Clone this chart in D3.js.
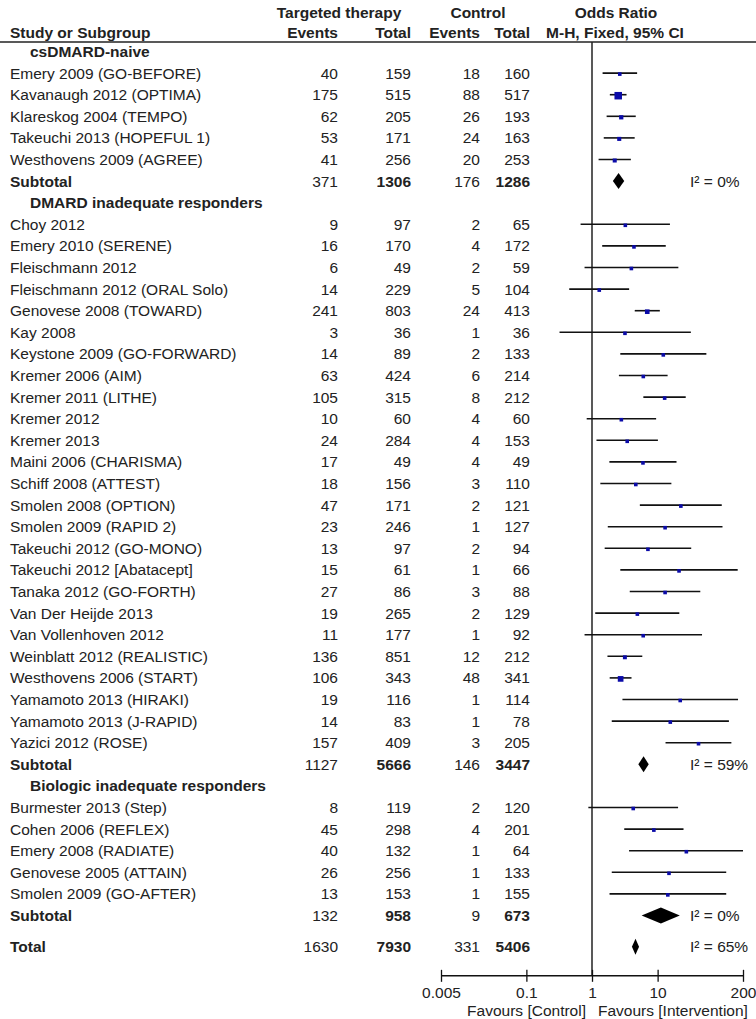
<!DOCTYPE html>
<html>
<head>
<meta charset="UTF-8">
<title>Forest plot: targeted therapy vs control</title>
<script src="https://cdn.jsdelivr.net/npm/d3@7"></script>
<style>
  body { margin: 0; background: #fff; }
  svg { display: block; font-family: "Liberation Sans", Arial, sans-serif; }
  .txt { font-size: 15.5px; fill: #222; }
  .bold { font-weight: bold; }
  .rule { stroke: #222; stroke-width: 1.5px; }
  .ci { stroke: #111; stroke-width: 1.6px; }
  .box { fill: #0b0ba8; }
  .diamond { fill: #000; }
</style>
</head>
<body>
<svg id="chart" width="756" height="1019"></svg>
<script>
// ---- data ----
const groups = ['csDMARD-naive', 'DMARD inadequate responders', 'Biologic inadequate responders'];

const studies = [
  'Emery 2009 (GO-BEFORE)', 'Kavanaugh 2012 (OPTIMA)', 'Klareskog 2004 (TEMPO)',
  'Takeuchi 2013 (HOPEFUL 1)', 'Westhovens 2009 (AGREE)',
  'Choy 2012', 'Emery 2010 (SERENE)', 'Fleischmann 2012', 'Fleischmann 2012 (ORAL Solo)',
  'Genovese 2008 (TOWARD)', 'Kay 2008', 'Keystone 2009 (GO-FORWARD)', 'Kremer 2006 (AIM)',
  'Kremer 2011 (LITHE)', 'Kremer 2012', 'Kremer 2013', 'Maini 2006 (CHARISMA)',
  'Schiff 2008 (ATTEST)', 'Smolen 2008 (OPTION)', 'Smolen 2009 (RAPID 2)',
  'Takeuchi 2012 (GO-MONO)', 'Takeuchi 2012 [Abatacept]', 'Tanaka 2012 (GO-FORTH)',
  'Van Der Heijde 2013', 'Van Vollenhoven 2012', 'Weinblatt 2012 (REALISTIC)',
  'Westhovens 2006 (START)', 'Yamamoto 2013 (HIRAKI)', 'Yamamoto 2013 (J-RAPID)', 'Yazici 2012 (ROSE)',
  'Burmester 2013 (Step)', 'Cohen 2006 (REFLEX)', 'Emery 2008 (RADIATE)',
  'Genovese 2005 (ATTAIN)', 'Smolen 2009 (GO-AFTER)'
];
const studyGroup = [0,0,0,0,0, 1,1,1,1,1,1,1,1,1,1,1,1,1,1,1,1,1,1,1,1,1,1,1,1,1, 2,2,2,2,2];

const txEvents = [40,175,62,53,41, 9,16,6,14,241,3,14,63,105,10,24,17,18,47,23,13,15,27,19,11,136,106,19,14,157, 8,45,40,26,13];
const txTotal  = [159,515,205,171,256, 97,170,49,229,803,36,89,424,315,60,284,49,156,171,246,97,61,86,265,177,851,343,116,83,409, 119,298,132,256,153];
const ctEvents = [18,88,26,24,20, 2,4,2,5,24,1,2,6,8,4,4,4,3,2,1,2,1,3,2,1,12,48,1,1,3, 2,4,1,1,1];
const ctTotal  = [160,517,193,163,253, 65,172,59,104,413,36,133,214,212,60,153,49,110,121,127,94,66,88,129,92,212,341,114,78,205, 120,201,64,133,155];

const oddsRatio = [2.65,2.51,2.79,2.60,2.22, 3.22,4.36,3.98,1.29,6.95,3.18,12.2,6.05,12.8,2.80,3.44,5.98,4.65,22.6,13.0,7.12,21.2,13.0,4.91,6.03,3.17,2.73,22.1,15.6,42.0, 4.25,8.76,27.4,14.9,14.3];
const ciLow    = [1.45,1.87,1.67,1.51,1.26, 0.67,1.43,0.77,0.45,4.48,0.32,2.70,2.57,6.06,0.83,1.17,1.84,1.34,5.36,1.74,1.56,2.70,3.76,1.12,0.77,1.72,1.86,2.91,2.00,13.2, 0.88,3.10,3.67,2.00,1.85];
const ciHigh   = [4.87,3.36,4.64,4.47,3.91, 15.4,13.3,20.7,3.68,10.8,32.1,55.3,14.2,26.8,9.49,10.1,19.4,16.2,94.9,97.4,32.5,166,44.7,21.4,47.5,5.84,4.00,168,122,133, 20.5,24.8,204,111,111];
const weightPct = [5.1,22.1,7.1,6.5,6.4, 0.8,1.4,0.6,2.5,8.4,0.4,0.5,2.6,2.4,1.3,1.8,1.0,1.2,0.6,0.5,0.7,0.3,0.8,1.0,0.5,6.1,12.7,0.3,0.3,0.9, 0.7,1.5,0.4,0.4,0.3];

const subTxEvents = [371, 1127, 132];
const subTxTotal  = [1306, 5666, 958];
const subCtEvents = [176, 146, 9];
const subCtTotal  = [1286, 3447, 673];
const subOR   = [2.54, 6.11, 11.2];
const subLow  = [2.08, 5.08, 5.70];
const subHigh = [3.10, 7.32, 21.8];
const subI2   = ['0%', '59%', '0%'];

const totalCounts = [1630, 7930, 331, 5406];
const totalOR = [4.60, 4.06, 5.21]; // estimate, low, high
const totalI2 = '65%';

const axisTicks = [0.005, 0.1, 1, 10, 200];

// ---- layout ----
const svg = d3.select('#chart');
const colName = 10, colIndent = 30;
const colTxEv = 338, colTxTot = 411, colCtEv = 480, colCtTot = 530;
const xI2 = 690;

const x = d3.scaleLog().domain([0.005, 200]).range([441, 743]);
const y = d3.scaleLinear().domain([0, 1]).range([51.5, 73.1]);

// build the row list: header, studies, subtotal for each group
const rows = [];
let slot = 0;
groups.forEach((g, gi) => {
  rows.push({ kind: 'header', label: g, slot: slot++ });
  studies.forEach((s, i) => {
    if (studyGroup[i] !== gi) return;
    rows.push({ kind: 'study', label: s, slot: slot++, cols: [txEvents[i], txTotal[i], ctEvents[i], ctTotal[i]],
      or: oddsRatio[i], lo: ciLow[i], hi: ciHigh[i], w: weightPct[i] });
  });
  rows.push({ kind: 'subtotal', label: 'Subtotal', slot: slot++,
    cols: [subTxEvents[gi], subTxTotal[gi], subCtEvents[gi], subCtTotal[gi]],
    or: subOR[gi], lo: subLow[gi], hi: subHigh[gi], i2: subI2[gi] });
});
rows.push({ kind: 'total', label: 'Total', slot: slot - 1 + 1.45, cols: totalCounts,
  or: totalOR[0], lo: totalOR[1], hi: totalOR[2], i2: totalI2 });

const totalY = y(rows[rows.length - 1].slot);
const axisY = totalY + 29;

// ---- column headers ----
const head = svg.append('g').attr('class', 'txt bold');
head.append('text').attr('x', 339).attr('y', 13).attr('dy', '0.35em')
  .attr('text-anchor', 'middle').text('Targeted therapy');
head.append('text').attr('x', 478).attr('y', 13).attr('dy', '0.35em')
  .attr('text-anchor', 'middle').text('Control');
head.append('text').attr('x', 616).attr('y', 13).attr('dy', '0.35em')
  .attr('text-anchor', 'middle').text('Odds Ratio');
head.append('text').attr('x', colName).attr('y', 33).attr('dy', '0.35em').text('Study or Subgroup');
[[colTxEv, 'Events'], [colTxTot, 'Total'], [colCtEv, 'Events'], [colCtTot, 'Total']].forEach(d => {
  head.append('text').attr('x', d[0]).attr('y', 33).attr('dy', '0.35em')
    .attr('text-anchor', 'end').text(d[1]);
});
head.append('text').attr('x', 615).attr('y', 33).attr('dy', '0.35em')
  .attr('text-anchor', 'middle').text('M-H, Fixed, 95% CI');

svg.append('line').attr('class', 'rule')
  .attr('x1', 0).attr('x2', 756).attr('y1', 42).attr('y2', 42);

// line of no effect
svg.append('line').attr('class', 'rule')
  .attr('x1', x(1)).attr('x2', x(1)).attr('y1', 42).attr('y2', axisY);

// ---- table text ----
const rowG = svg.append('g').selectAll('g').data(rows).join('g')
  .attr('transform', d => `translate(0,${y(d.slot)})`);

rowG.append('text')
  .attr('class', d => d.kind === 'study' ? 'txt' : 'txt bold')
  .attr('x', d => d.kind === 'header' ? colIndent : colName)
  .attr('dy', '0.35em')
  .text(d => d.label);

const colX = [colTxEv, colTxTot, colCtEv, colCtTot];
rowG.filter(d => d.cols).selectAll('text.num')
  .data(d => d.cols.map((v, i) => ({ v, i, kind: d.kind })))
  .join('text')
  .attr('class', d => (d.kind !== 'study' && d.i % 2 === 1) ? 'num txt bold' : 'num txt')
  .attr('x', d => colX[d.i])
  .attr('dy', '0.35em')
  .attr('text-anchor', 'end')
  .text(d => d.v);

// ---- forest marks ----
const boxSize = d3.scaleSqrt().domain([0, 22.1]).range([0, 7.5]);
const studyRows = rowG.filter(d => d.kind === 'study');
studyRows.append('line').attr('class', 'ci')
  .attr('x1', d => x(Math.max(d.lo, 0.005)))
  .attr('x2', d => x(Math.min(d.hi, 200)))
  .attr('y1', 0).attr('y2', 0);
studyRows.append('rect').attr('class', 'box')
  .attr('x', d => x(d.or) - Math.max(3.6, boxSize(d.w)) / 2)
  .attr('y', d => -Math.max(3.6, boxSize(d.w)) / 2 + 1)
  .attr('width', d => Math.max(3.6, boxSize(d.w)))
  .attr('height', d => Math.max(3.6, boxSize(d.w)));

const pooled = rowG.filter(d => d.kind === 'subtotal' || d.kind === 'total');
pooled.append('path').attr('class', 'diamond')
  .attr('d', d => `M${x(d.lo)},0 L${x(d.or)},-8 L${x(d.hi)},0 L${x(d.or)},8 Z`);
pooled.append('text').attr('class', 'txt')
  .attr('x', xI2).attr('dy', '0.35em')
  .text(d => `I² = ${d.i2}`);

// ---- axis ----
const axis = d3.axisBottom(x).tickValues(axisTicks).tickFormat(d3.format('~g')).tickSize(6);
const axG = svg.append('g').attr('transform', `translate(0,${axisY})`).call(axis);
axG.select('.domain').attr('stroke', '#111').attr('stroke-width', 1.5).attr('d', `M${x(0.005)},0H${x(200)}`);
axG.selectAll('.tick line').attr('stroke', '#111').attr('stroke-width', 1.3).attr('y1', -6).attr('y2', 6);
axG.selectAll('.tick text').attr('class', 'txt').attr('fill', '#222')
  .style('font-size', '15.5px').attr('y', 11);

svg.append('text').attr('class', 'txt').attr('x', x(1) - 6).attr('y', axisY + 35)
  .attr('dy', '0.35em').attr('text-anchor', 'end').text('Favours [Control]');
svg.append('text').attr('class', 'txt').attr('x', x(1) + 6).attr('y', axisY + 35)
  .attr('dy', '0.35em').text('Favours [Intervention]');
</script>
</body>
</html>
